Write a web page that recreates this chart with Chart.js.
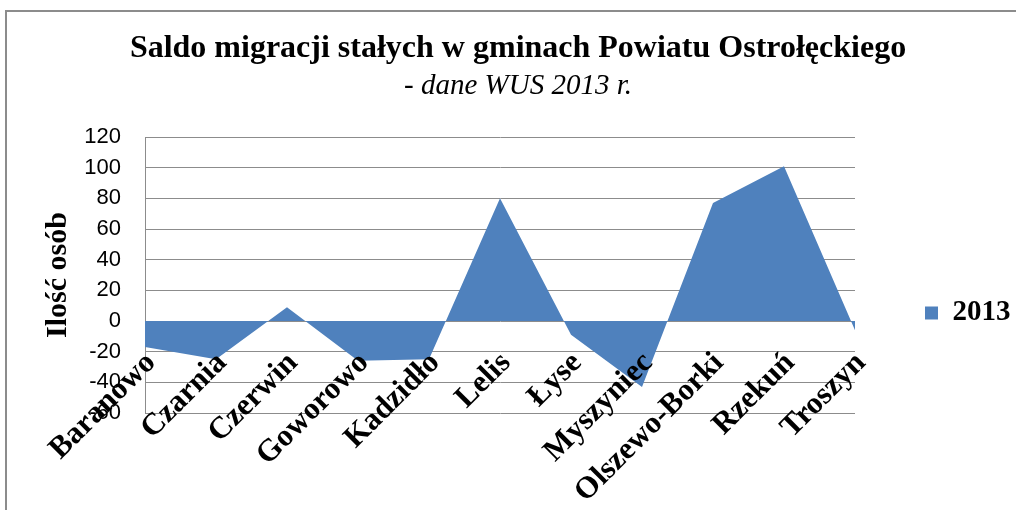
<!DOCTYPE html>
<html>
<head>
<meta charset="utf-8">
<script src="https://cdn.jsdelivr.net/npm/chart.js@4.4.1/dist/chart.umd.min.js"></script>
<style>
  html, body { margin: 0; padding: 0; background: #ffffff; overflow: hidden; }
  #wrap { position: relative; width: 1016px; height: 510px; }
  #frame { position: absolute; left: 5px; top: 10px; width: 2000px; height: 1000px;
           border-top: 2px solid #8c8c8c; border-left: 2px solid #8c8c8c; }
  #c { position: absolute; left: 0; top: 0; }
</style>
</head>
<body>
<div id="wrap">
  <div id="frame"></div>
  <canvas id="c" width="1016" height="510"></canvas>
</div>
<script>
const categories = ['Baranowo', 'Czarnia', 'Czerwin', 'Goworowo', 'Kadzidło', 'Lelis', 'Łyse', 'Myszyniec', 'Olszewo-Borki', 'Rzekuń', 'Troszyn'];
const values2013 = [-17, -25, 9, -26, -25, 80, -9, -43, 77, 101, -6];
const seriesLabel = '2013';
const titleText = 'Saldo migracji stałych w gminach Powiatu Ostrołęckiego';
const subtitleText = '- dane WUS 2013 r.';
const yAxisTitle = 'Ilość osób';
const yMin = -60, yMax = 120, yStep = 20;

const serif = "'Liberation Serif', 'Times New Roman', serif";
const gridColor = '#8c8c8c';
const fillColor = '#4f81bd';

new Chart(document.getElementById('c'), {
  type: 'line',
  data: {
    labels: categories,
    datasets: [{
      label: seriesLabel,
      data: values2013,
      fill: 'origin',
      backgroundColor: fillColor,
      borderColor: fillColor,
      borderWidth: 0,
      pointRadius: 0,
      tension: 0
    }]
  },
  options: {
    responsive: false,
    animation: false,
    devicePixelRatio: 1,
    layout: { padding: { left: 20, right: 0, top: 0, bottom: 97 } },
    plugins: {
      title: {
        display: true,
        text: titleText,
        color: '#000',
        font: { family: serif, size: 32, weight: 'bold' },
        padding: { top: 30, bottom: 0 }
      },
      subtitle: {
        display: true,
        text: subtitleText,
        color: '#000',
        font: { family: serif, size: 29, style: 'italic', weight: 'normal' },
        padding: { top: 1, bottom: 32.8 }
      },
      legend: {
        display: true,
        position: 'right',
        align: 'center',
        fullSize: true,
        maxWidth: 161,
        title: {
          display: true,
          text: '',
          font: { size: 10 },
          padding: { top: 201, bottom: 0 }
        },
        labels: {
          color: '#000',
          font: { family: serif, size: 29, weight: 'bold' },
          boxWidth: 13,
          boxHeight: 13,
          padding: 70
        }
      },
      tooltip: { enabled: false }
    },
    scales: {
      x: {
        type: 'category',
        position: { y: 0 },
        offset: false,
        grid: { display: false, drawTicks: false },
        border: { display: false },
        ticks: {
          z: 1,
          autoSkip: false,
          minRotation: 45,
          maxRotation: 45,
          padding: 24,
          labelOffset: 6,
          color: '#000',
          font: { family: serif, size: 31, weight: 'bold' }
        }
      },
      y: {
        min: yMin,
        max: yMax,
        afterFit: (scale) => { scale.width = 125; },
        grid: { color: gridColor, lineWidth: 1, drawTicks: false },
        border: { display: true, color: gridColor, width: 1 },
        ticks: {
          stepSize: yStep,
          padding: 24,
          color: '#000',
          font: { family: "'Liberation Sans', Arial, sans-serif", size: 22 }
        },
        title: {
          display: true,
          text: yAxisTitle,
          color: '#000',
          font: { family: serif, size: 30, weight: 'bold' },
          padding: { top: 20, bottom: 0 }
        }
      }
    }
  }
});
</script>
</body>
</html>
